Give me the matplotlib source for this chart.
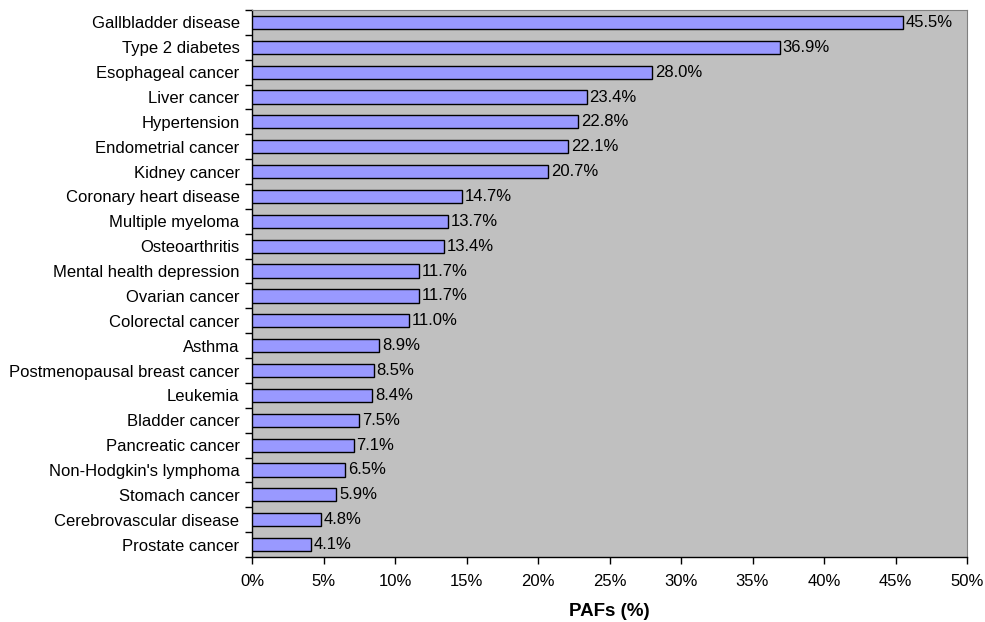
import matplotlib
matplotlib.use("Agg")
import matplotlib.pyplot as plt
import numpy as np
from matplotlib.ticker import FixedLocator

categories = [
    "Gallbladder disease", "Type 2 diabetes", "Esophageal cancer", "Liver cancer",
    "Hypertension", "Endometrial cancer", "Kidney cancer", "Coronary heart disease",
    "Multiple myeloma", "Osteoarthritis", "Mental health depression", "Ovarian cancer",
    "Colorectal cancer", "Asthma", "Postmenopausal breast cancer", "Leukemia",
    "Bladder cancer", "Pancreatic cancer", "Non-Hodgkin's lymphoma", "Stomach cancer",
    "Cerebrovascular disease", "Prostate cancer",
]
pafs = [45.5, 36.9, 28.0, 23.4, 22.8, 22.1, 20.7, 14.7, 13.7, 13.4, 11.7, 11.7,
        11.0, 8.9, 8.5, 8.4, 7.5, 7.1, 6.5, 5.9, 4.8, 4.1]
x_ticks = list(range(0, 55, 5))
x_tick_labels = [f"{t}%" for t in x_ticks]

plt.rcParams["font.family"] = ["Liberation Sans", "DejaVu Sans"]

fig = plt.figure(figsize=(9.85, 6.22), dpi=100)
ax = fig.add_axes([252 / 985, 1 - 557 / 622, (967 - 252) / 985, (557 - 10) / 622])
ax.set_facecolor("#C0C0C0")

n = len(categories)
y = np.arange(n)
ax.barh(y, pafs, height=0.53, color="#9999FF", edgecolor="black", linewidth=1.0, zorder=3)
for yi, v in zip(y, pafs):
    ax.text(v + 0.2, yi, f"{v:.1f}%", va="center", ha="left", fontsize=12, zorder=4)

ax.set_ylim(n - 0.5, -0.5)
ax.set_xlim(0, 50)
ax.set_yticks(y)
ax.set_yticklabels(categories, fontsize=12)
ax.yaxis.set_minor_locator(FixedLocator(np.arange(-0.5, n, 1.0)))
ax.tick_params(axis="y", which="major", length=0, pad=9)
ax.tick_params(axis="y", which="minor", length=5, width=1, direction="out")
ax.set_xticks(x_ticks)
ax.set_xticklabels(x_tick_labels, fontsize=12)
ax.tick_params(axis="x", length=5, width=1, direction="out", pad=7)

for side in ("top", "right"):
    ax.spines[side].set_color("#808080")
for side in ("left", "bottom"):
    ax.spines[side].set_color("black")
    ax.spines[side].set_linewidth(1)

ax.set_xlabel("PAFs (%)", fontsize=13.5, fontweight="bold", labelpad=10)

fig.savefig("out.png", dpi=100)
